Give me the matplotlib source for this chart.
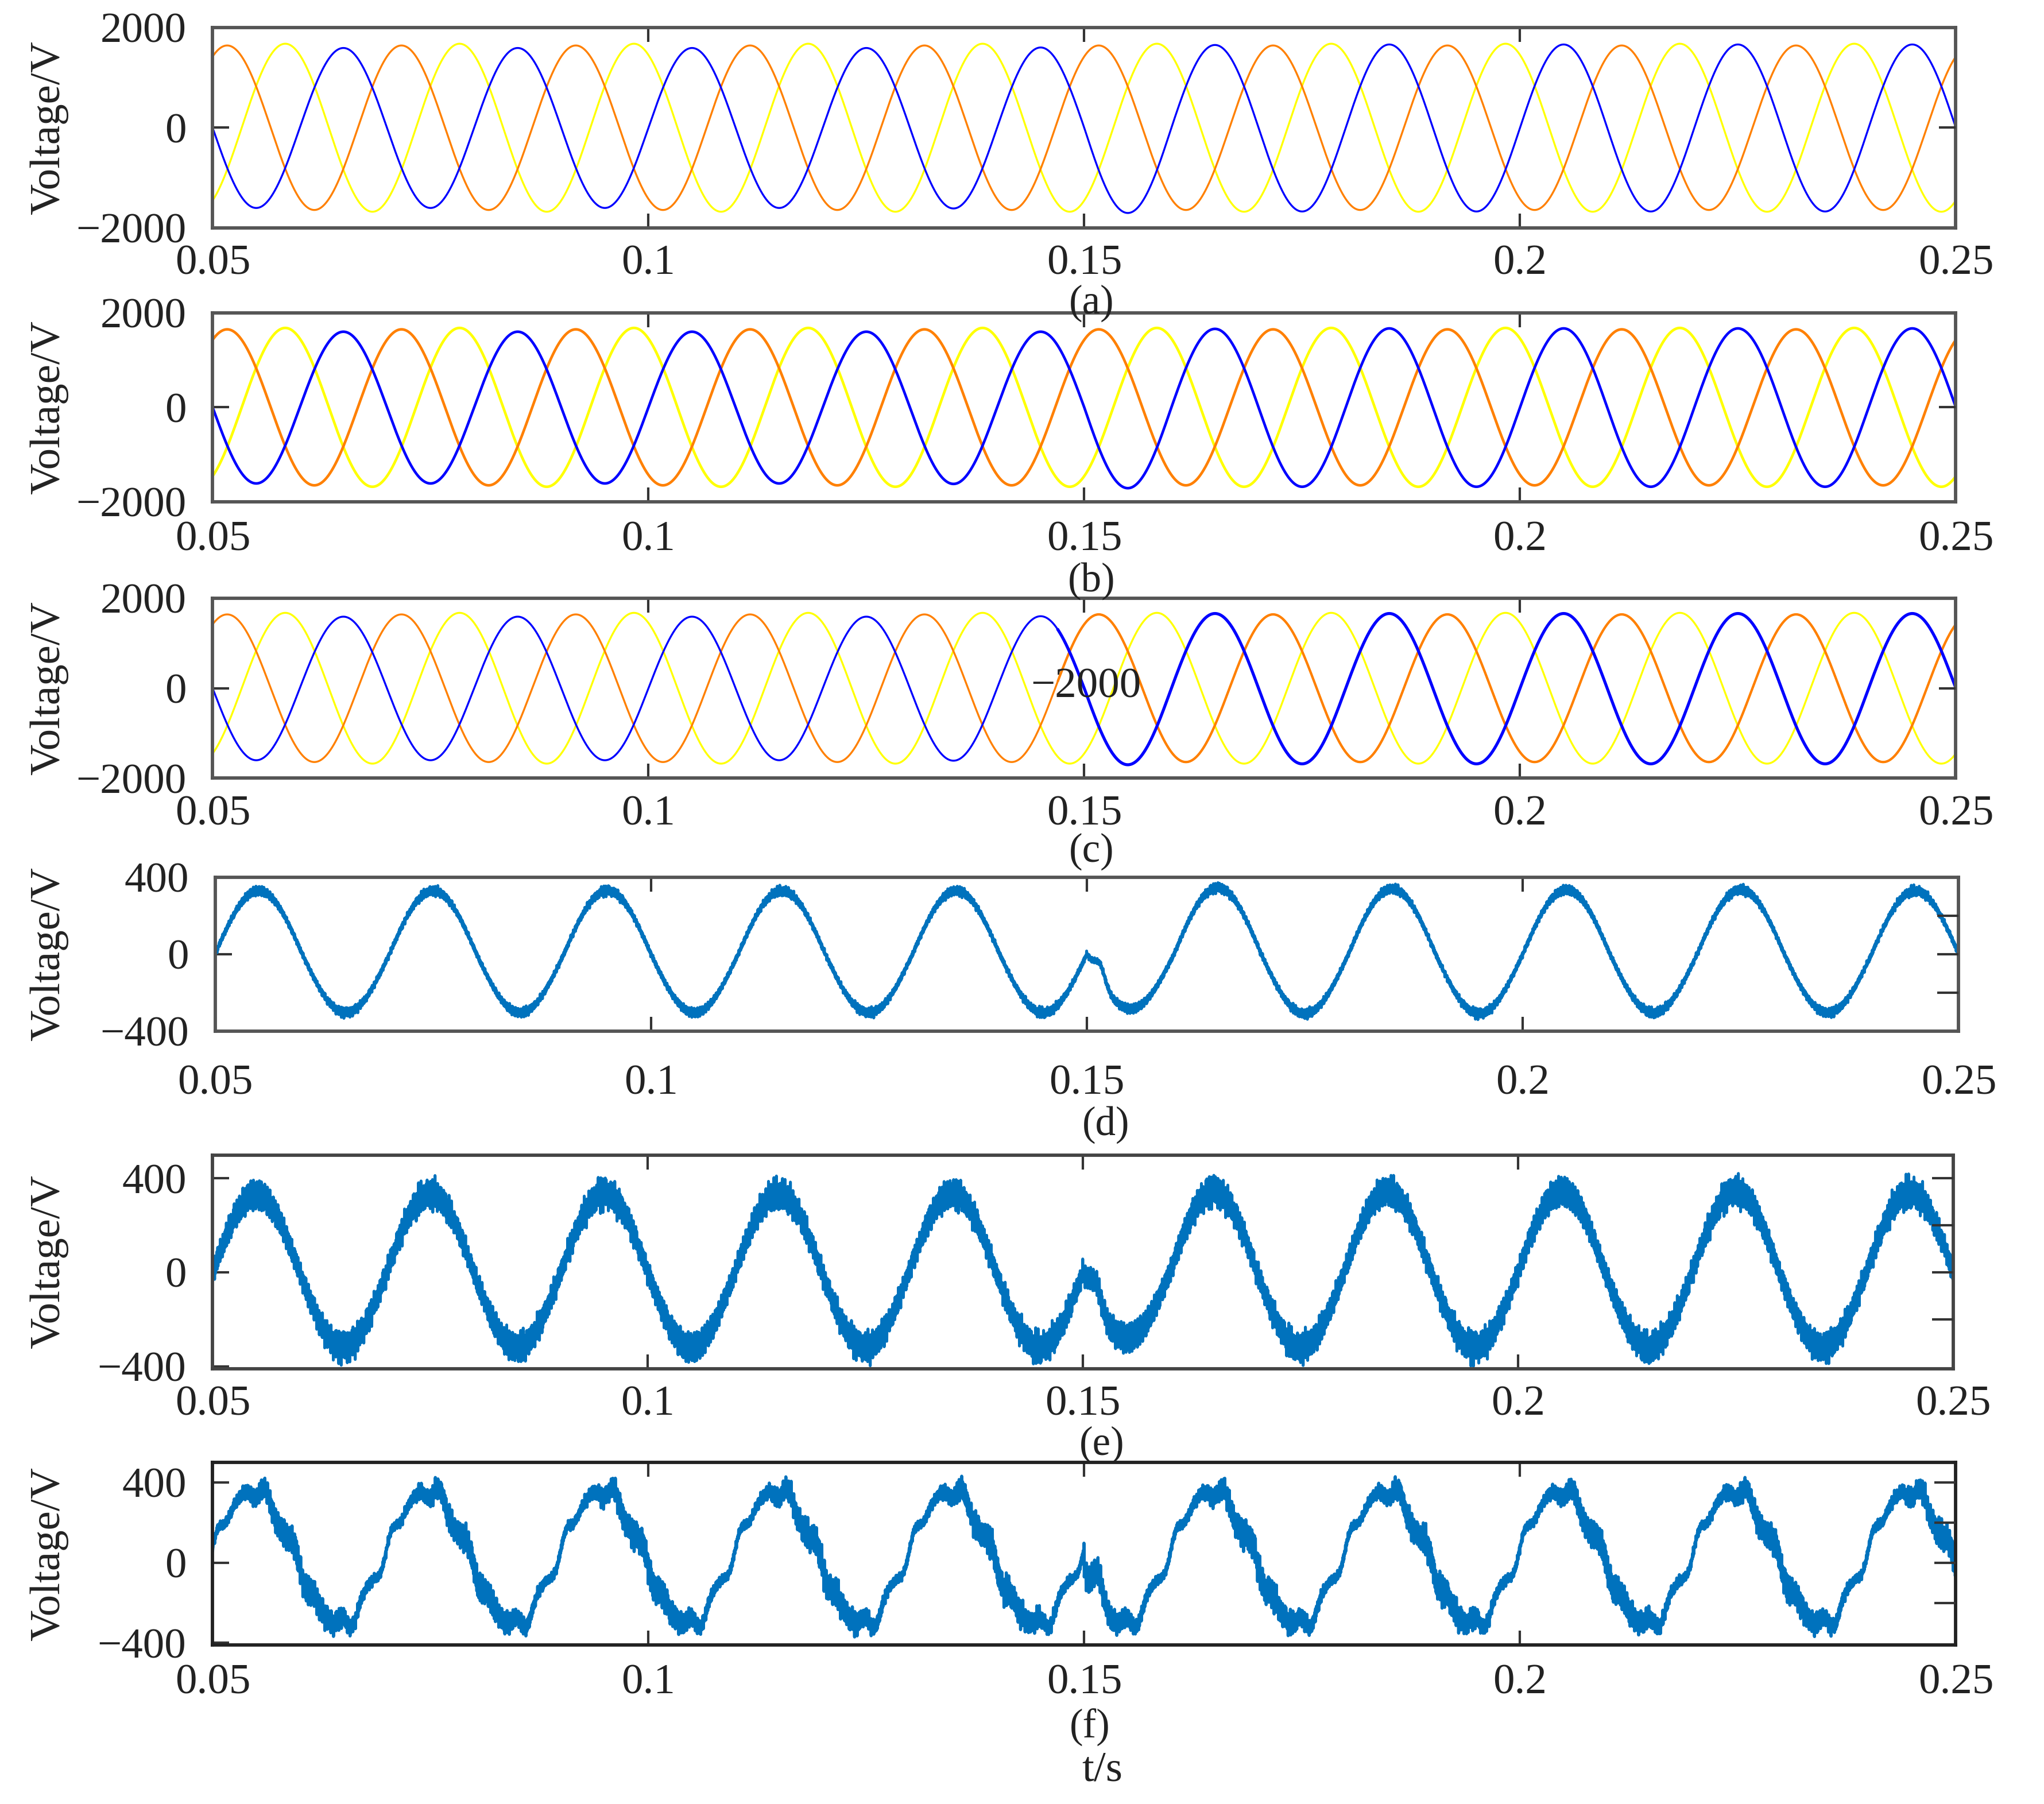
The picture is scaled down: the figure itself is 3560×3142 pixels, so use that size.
import numpy as np
import matplotlib
matplotlib.use('Agg')
import matplotlib.pyplot as plt

plt.rcParams['font.family'] = ['Liberation Serif', 'DejaVu Serif']
plt.rcParams['mathtext.fontset'] = 'dejavuserif'

# ---------------- data ----------------
t_start, t_end = 0.05, 0.25
grid_freq_hz = 50
event_time = 0.15

x_ticks = [0.05, 0.1, 0.15, 0.2, 0.25]
x_ticklabels = ['0.05', '0.1', '0.15', '0.2', '0.25']
panel_labels = ['(a)', '(b)', '(c)', '(d)', '(e)', '(f)']
y_label = 'Voltage/V'
x_label = 't/s'

# three-phase panels (a)-(c)
phase_colors = ['#FFFF00', '#FF8000', '#0000FF']        # yellow, orange, blue
phase_angles_deg = [-60, 60, 180]                        # relative to reference angle
orange_amp = [1640, 1650, 1640]
yellow_amp = [1675, 1680, 1675]
# blue peak magnitude of each half cycle (0.05 .. 0.25, 20 half cycles)
blue_half_peaks_a = [1600, 1590, 1600, 1590, 1600, 1590, 1600, 1590, 1610, 1600,
                     1700, 1650, 1670, 1660, 1670, 1660, 1670, 1660, 1670, 1660]
blue_half_peaks_b = [1610, 1600, 1610, 1600, 1610, 1600, 1610, 1600, 1620, 1600,
                     1710, 1660, 1680, 1670, 1680, 1670, 1680, 1670, 1680, 1670]
blue_half_peaks_c = [1600, 1590, 1600, 1590, 1600, 1590, 1600, 1590, 1610, 1600,
                     1700, 1660, 1680, 1660, 1680, 1660, 1680, 1660, 1680, 1660]
threephase_ylim = [-2000, 2000]
threephase_yticks = [-2000, 0, 2000]
threephase_yticklabels = ['\u22122000', '0', '2000']

# single-phase panels (d)-(f): signed peak of each half cycle
d_half_peaks = [330, -305, 330, -305, 330, -305, 330, -305, 330, -305,
                -285, 345, -310, 340, -310, 335, -305, 335, -305, 330]
e_half_peaks = [330, -320, 335, -320, 335, -320, 335, -320, 335, -320,
                -280, 345, -320, 345, -320, 345, -320, 345, -320, 340]
d_ripple_amp = 24
e_ripple_amp = 75
event_bump_amp = [80, 85, 110]      # d, e, f
event_bump_center = 0.1515
event_bump_width = 0.0008

# panel (f): distorted waveform
f_dc = 25
f_fund_amp = 330
f_fund_lead_deg = 8
f_harm_orders = [5, 7, 11]
f_harm_amps = [14, 30, 10]
f_harm_phases_deg = [-50, 30, 0]
f_ripple_amp = 90

# switching ripple components (deterministic)
ripple_freqs_hz = [9970, 13130, 17390, 6290, 21110]
ripple_weights = [0.35, 0.25, 0.20, 0.15, 0.15]
ripple_phases = [0.0, 1.3, 2.1, 0.7, 2.9]

single_ylims = [[-400, 400], [-410, 500], [-410, 500]]
single_yticks = [-400, 0, 400]
single_yticklabels = ['\u2212400', '0', '400']
single_right_ticks = [[-200, 0, 200], [-200, 0, 200, 400], [-200, 0, 200, 400]]
wave_color = '#0072BD'

# ---------------- signal construction ----------------
t = np.linspace(t_start, t_end, 40001)
theta = 2 * np.pi * grid_freq_hz * (t - t_start)
half_idx = np.clip(np.floor((t - t_start) / (0.5 / grid_freq_hz) + 1e-9).astype(int), 0, 19)


def ripple(tt):
    r = np.zeros_like(tt)
    for fr, w, ph in zip(ripple_freqs_hz, ripple_weights, ripple_phases):
        r += w * np.sin(2 * np.pi * fr * tt + ph)
    return r


rip = ripple(t)
bump = np.exp(-((t - event_bump_center) / event_bump_width) ** 2)

# ---------------- figure ----------------
fig = plt.figure(figsize=(3561 / 300, 3142 / 300), dpi=300)
rects = [
    (0.1040, 0.8736, 0.8526, 0.1112),
    (0.1040, 0.7218, 0.8526, 0.1048),
    (0.1040, 0.5686, 0.8526, 0.0998),
    (0.1052, 0.4285, 0.8528, 0.0852),
    (0.1040, 0.2413, 0.8514, 0.1185),
    (0.1040, 0.0882, 0.8526, 0.1011),
]
caption_pos = [(0.534, 0.832), (0.534, 0.678), (0.534, 0.528),
               (0.541, 0.3766), (0.539, 0.1991), (0.533, 0.0425)]
xpads = [7, 8, 7, 14, 7, 8]
spine_colors = ['#555555', '#555555', '#555555', '#555555', '#444444', '#222222']
FS = 18
CAP_FS = 17

axes = []
for i, r in enumerate(rects):
    ax = fig.add_axes(r)
    axes.append(ax)
    ax.set_xlim(t_start, t_end)
    ax.set_xticks(x_ticks)
    ax.set_xticklabels(x_ticklabels, fontsize=FS)
    ax.tick_params(axis='x', direction='in', top=True, bottom=True, length=6,
                   width=1.0, pad=xpads[i], colors='#333333', labelcolor='#222222')
    ax.tick_params(axis='y', direction='in', left=True, right=False, length=7,
                   width=1.0, pad=11, colors='#333333', labelcolor='#222222')
    for s in ax.spines.values():
        s.set_color(spine_colors[i])
        s.set_linewidth(1.4)
    fig.text(caption_pos[i][0], caption_pos[i][1], panel_labels[i],
             ha='center', va='center', fontsize=CAP_FS, color='#222222')
    fig.text(0.024, r[1] + r[3] / 2, y_label, rotation=90, ha='center',
             va='center', fontsize=FS, color='#222222')

# three-phase panels
blue_sets = [blue_half_peaks_a, blue_half_peaks_b, blue_half_peaks_c]
lw_sets = [0.8, 1.1, 0.8]
for p in range(3):
    ax = axes[p]
    blue_amp = np.array(blue_sets[p])[half_idx]
    amps = [yellow_amp[p], orange_amp[p], blue_amp]
    for amp, ang, col in zip(amps, phase_angles_deg, phase_colors):
        v = amp * np.sin(theta + np.deg2rad(ang))
        ax.plot(t, v, color=col, lw=lw_sets[p], solid_capstyle='butt')
        if p == 2 and col != '#FFFF00':
            m = t >= 0.147
            ax.plot(t[m], v[m], color=col, lw=1.25 if col == '#0000FF' else 1.0)
    ax.set_ylim(*threephase_ylim)
    ax.set_yticks(threephase_yticks)
    ax.set_yticklabels(threephase_yticklabels, fontsize=FS)
    axr = ax.twinx()
    axr.set_ylim(*threephase_ylim)
    axr.set_yticks([0])
    axr.tick_params(axis='y', direction='in', length=7, width=1.0,
                    labelright=False, colors='#333333')
    for s in axr.spines.values():
        s.set_visible(False)

# stray label inside panel (c)
fig.text(0.5312, 0.6192, '\u22122000', ha='center', va='center', fontsize=FS,
         color='#222222', zorder=10)

# single-phase panels
sinabs = np.abs(np.sin(theta))
v_d = np.array(d_half_peaks)[half_idx] * sinabs + event_bump_amp[0] * bump \
    + d_ripple_amp * (0.75 + 0.6 * sinabs ** 4) * rip
v_e = np.array(e_half_peaks)[half_idx] * sinabs + event_bump_amp[1] * bump \
    + e_ripple_amp * (0.8 + 0.3 * sinabs ** 2) * rip
psi = theta + np.pi * (t >= event_time)
v_f = f_dc + f_fund_amp * np.sin(psi + np.deg2rad(f_fund_lead_deg))
for n, a, ph in zip(f_harm_orders, f_harm_amps, f_harm_phases_deg):
    v_f = v_f + a * np.sin(n * psi + np.deg2rad(ph))
v_f = v_f + event_bump_amp[2] * bump + f_ripple_amp * (0.3 + 0.7 * (1 - np.cos(psi)) / 2) * rip

line_widths = [1.2, 1.2, 1.3]
for k, v in enumerate([v_d, v_e, v_f]):
    ax = axes[3 + k]
    ax.plot(t, v, color=wave_color, lw=line_widths[k])
    ax.set_ylim(*single_ylims[k])
    ax.set_yticks(single_yticks)
    ax.set_yticklabels(single_yticklabels, fontsize=FS)
    axr = ax.twinx()
    axr.set_ylim(*single_ylims[k])
    axr.set_yticks(single_right_ticks[k])
    axr.tick_params(axis='y', direction='in', length=9, width=1.0,
                    labelright=False, colors='#333333')
    for s in axr.spines.values():
        s.set_visible(False)

fig.text(0.539, 0.0185, x_label, ha='center', va='center', fontsize=FS, color='#222222')

fig.savefig('out.png', dpi=300, facecolor='white')
